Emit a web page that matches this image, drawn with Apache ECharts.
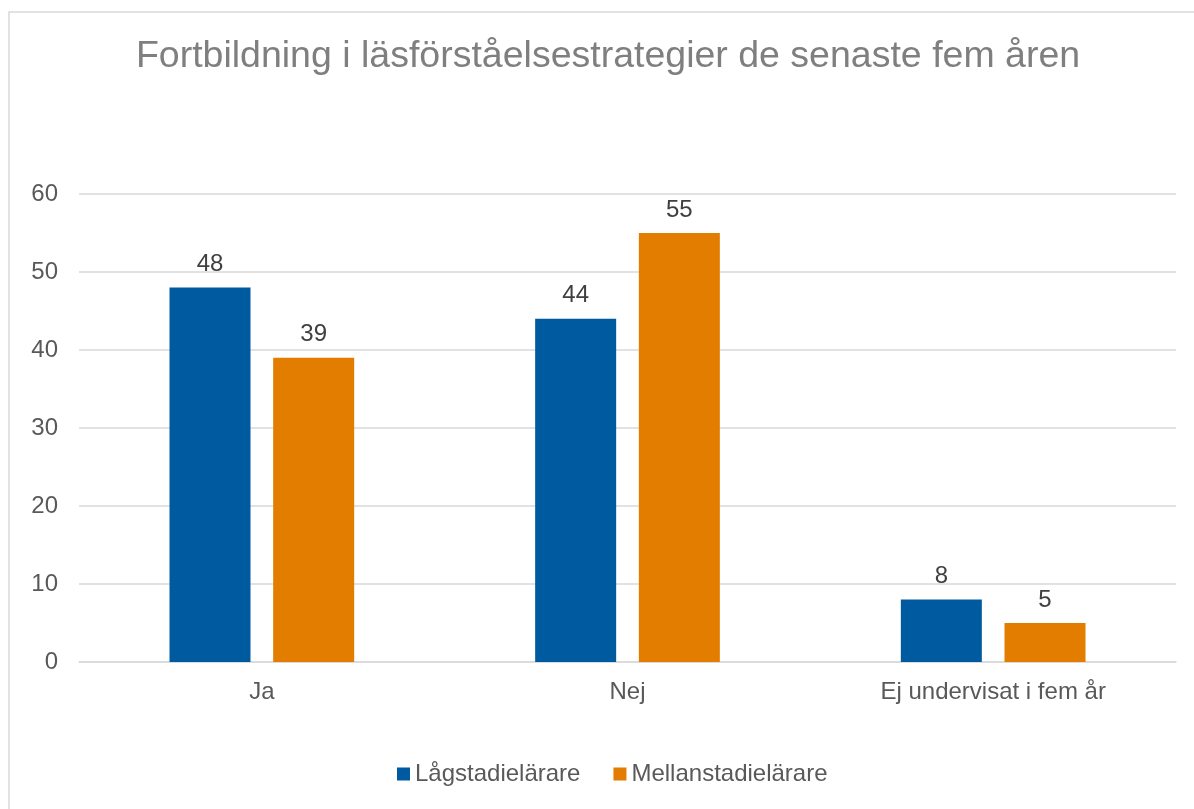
<!DOCTYPE html>
<html>
<head>
<meta charset="utf-8">
<script src="https://cdn.jsdelivr.net/npm/echarts@6/dist/echarts.min.js"></script>
<style>
  html, body { margin: 0; padding: 0; background: #fff; }
  #main { width: 1194px; height: 809px; }
</style>
</head>
<body>
<div id="main"></div>
<script>
  // data
  var categories = ['Ja', 'Nej', 'Ej undervisat i fem år'];
  var lagstadiet = [48, 44, 8];
  var mellanstadiet = [39, 55, 5];
  var seriesNames = ['Lågstadielärare', 'Mellanstadielärare'];

  var chart = echarts.init(document.getElementById('main'));

  var labelStyle = {
    show: true,
    position: 'top',
    distance: 11,
    fontSize: 24,
    color: '#404040',
    fontFamily: 'Liberation Sans'
  };

  var option = {
    animation: false,
    textStyle: { fontFamily: 'Liberation Sans' },
    graphic: [{
      type: 'rect',
      shape: { x: 9, y: 12, width: 1200, height: 820 },
      style: { fill: 'none', stroke: '#d9d9d9', lineWidth: 1.5 },
      silent: true,
      z: -10
    }],
    title: {
      text: 'Fortbildning i läsförståelsestrategier de senaste fem åren',
      left: 603,
      top: 33,
      textAlign: 'center',
      textStyle: {
        fontSize: 37.5,
        fontWeight: 'normal',
        color: '#7f7f7f',
        fontFamily: 'Liberation Sans'
      }
    },
    legend: {
      data: seriesNames,
      bottom: 18,
      left: 392,
      itemWidth: 13,
      itemHeight: 13,
      itemGap: 33,
      icon: 'rect',
      textStyle: { fontSize: 24, color: '#595959', fontFamily: 'Liberation Sans' }
    },
    grid: {
      left: 79,
      right: 18,
      top: 194,
      bottom: 147,
      containLabel: false
    },
    xAxis: {
      type: 'category',
      data: categories,
      axisTick: { show: false },
      axisLine: { lineStyle: { color: '#d9d9d9', width: 1.5 } },
      axisLabel: { fontSize: 24, color: '#595959', margin: 18 }
    },
    yAxis: {
      type: 'value',
      min: 0,
      max: 60,
      interval: 10,
      axisLine: { show: false },
      axisTick: { show: false },
      axisLabel: { fontSize: 24, color: '#595959', margin: 21 },
      splitLine: { lineStyle: { color: '#d9d9d9', width: 1.5 } }
    },
    series: [{
      name: seriesNames[0],
      type: 'bar',
      data: lagstadiet,
      barWidth: 81,
      barGap: '28%',
      itemStyle: { color: '#005a9f' },
      label: labelStyle
    }, {
      name: seriesNames[1],
      type: 'bar',
      data: mellanstadiet,
      barWidth: 81,
      itemStyle: { color: '#e27d00' },
      label: labelStyle
    }]
  };

  chart.setOption(option);
</script>
</body>
</html>
